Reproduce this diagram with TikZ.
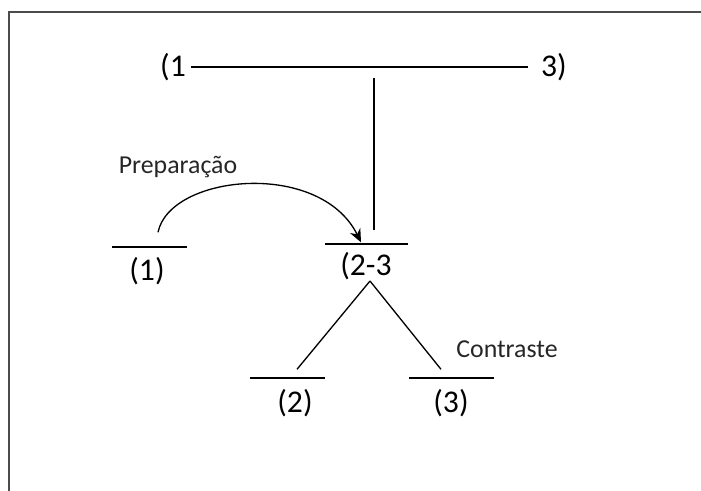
\documentclass[tikz,border=0pt]{standalone}
\usepackage{fontspec}
\setmainfont{Carlito}
\usetikzlibrary{arrows.meta,calc}

\begin{document}
\begin{tikzpicture}[x=0.02cm, y=-0.02cm, >=Stealth, line width=0.75pt,
  num/.style={font=\fontsize{18}{20}\selectfont, inner sep=0pt},
  lbl/.style={font=\fontsize{14.7}{17}\selectfont, text=black!85, inner sep=0pt},
  bar/.style={draw, inner sep=0pt, minimum height=0pt, line width=0.8pt}]
  \useasboundingbox (0,0) rectangle (701,491);
  \draw[black!70, line width=1.1pt] (9,491) -- (9,12) -- (701,12);
  % whole span on top
  \node[num] (a) at (173,67) {(1};
  \node[num] (b) at (554,67) {3)};
  \draw[shorten <=2.5pt, shorten >=7pt] (a.east) -- (b.west);
  % slots with their numbers
  \node[bar, minimum width=1.5cm]  (b1) at (149.5,247) {};
  \node[bar, minimum width=1.66cm] (bm) at (366.5,244) {};
  \node[bar, minimum width=1.5cm]  (b2) at (287.5,378) {};
  \node[bar, minimum width=1.7cm]  (b3) at (451.5,378) {};
  \node[num] (t1) at (147,271) {(1)};
  \node[num] (tm) at (366,266) {(2-3};
  \node[num] (t2) at (295,403) {(2)};
  \node[num] (t3) at (451,403) {(3)};
  \node[lbl] (prep) at (178,167) {Preparação};
  \node[lbl] (contr) at (507,349) {Contraste};
  % links
  \coordinate (j) at (374,78);
  \draw (j) -- ($(j |- bm)+(0,-14)$);
  \draw[-{Stealth[length=7.5pt, width=6.5pt]}] ($(b1.north)+(8.5,-14)$)
    .. controls +(12,-58) and +(-41,-83) .. ($(bm.north)+(-5.5,-1)$);
  \coordinate (apex) at ($(tm)+(4,15)$);
  \draw (apex) -- ($(b2.north)+(9.5,-8)$);
  \draw (apex) -- ($(b3.north)+(-10.5,-8)$);
\end{tikzpicture}
\end{document}
